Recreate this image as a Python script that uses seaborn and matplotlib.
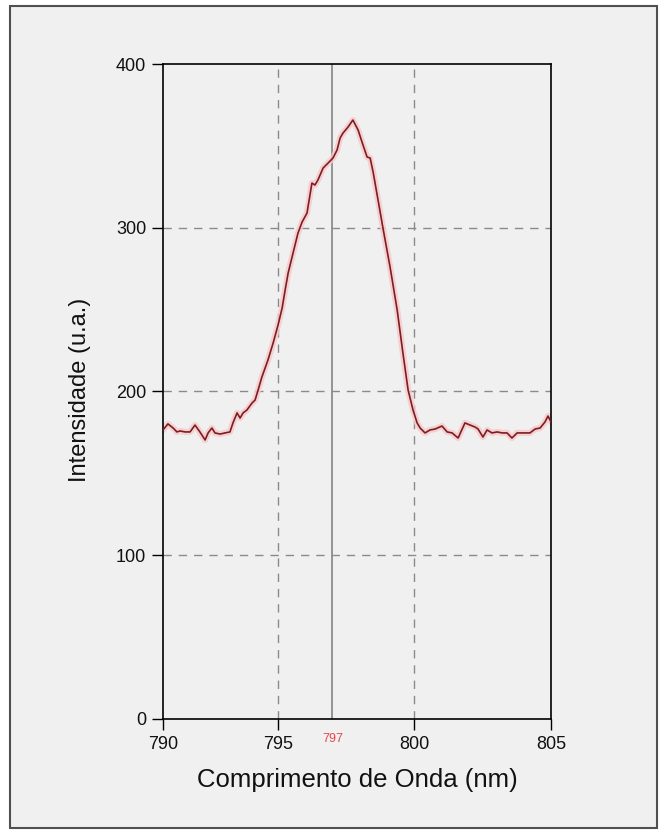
import matplotlib
matplotlib.use("Agg")
import matplotlib.pyplot as plt
from matplotlib.patches import Rectangle
import seaborn as sns
import pandas as pd

# Emission spectrum around 797 nm
wavelength_nm = [
    790.80, 790.98, 791.17, 791.31, 791.42, 791.61, 791.79, 791.97, 792.15, 792.34,
    792.45, 792.59, 792.70, 792.89, 793.07, 793.25, 793.36, 793.51, 793.62, 793.73,
    793.87, 794.06, 794.17, 794.28, 794.42, 794.64, 794.83, 795.01, 795.16, 795.27,
    795.38, 795.56, 795.74, 795.89, 796.07, 796.25, 796.36, 796.47, 796.66, 796.84,
    797.02, 797.17, 797.28, 797.39, 797.57, 797.75, 797.94, 798.12, 798.27, 798.38,
    798.49, 798.67, 798.85, 799.11, 799.37, 799.58, 799.77, 799.95, 800.10, 800.21,
    800.39, 800.57, 800.76, 801.01, 801.20, 801.38, 801.60, 801.85, 802.04, 802.22,
    802.33, 802.51, 802.66, 802.84, 803.03, 803.21, 803.39, 803.57, 803.76, 803.98,
    804.23, 804.42, 804.60, 804.78, 804.89, 805.00,
]
intensity = [
    176.5, 180.2, 177.7, 175.3, 175.9, 175.3, 175.3, 179.5, 175.3, 170.4,
    174.7, 177.7, 174.7, 174.0, 174.7, 175.3, 180.8, 186.9, 183.8, 186.9,
    188.7, 193.0, 194.8, 200.9, 208.9, 219.2, 229.6, 240.6, 251.0, 262.0,
    272.4, 284.6, 296.8, 303.5, 309.0, 327.3, 326.1, 329.2, 336.5, 339.5,
    342.6, 347.5, 354.8, 357.9, 361.5, 365.8, 359.7, 350.5, 343.2, 342.6,
    334.0, 316.9, 299.8, 276.0, 249.8, 223.5, 200.9, 188.7, 180.8, 177.7,
    174.7, 176.5, 177.1, 178.9, 175.3, 174.7, 171.6, 180.8, 179.5, 178.3,
    177.1, 172.2, 176.5, 174.7, 175.3, 174.7, 174.7, 171.6, 174.7, 174.7,
    174.7, 177.1, 177.7, 181.4, 185.0, 181.4,
]

x_range = (790.8, 805.0)
x_ticks = [790.8, 795, 800, 805]
x_tick_labels = ["790", "795", "800", "805"]
y_ticks = [0, 100, 200, 300, 400]
x_grid = [795, 800]
y_grid = [100, 200, 300]
marker_nm = 797

sns.set_style("white")
plt.rcParams["font.family"] = ["Liberation Sans", "DejaVu Sans"]

df = pd.DataFrame({"wavelength": wavelength_nm, "intensity": intensity})

fig = plt.figure(figsize=(6.67, 8.36), dpi=100, facecolor="white")

# panel frame behind the axes
fig.patches.append(Rectangle((0.015, 0.0096), 0.970, 0.983, transform=fig.transFigure,
                             facecolor="#f0f0f0", edgecolor="#505050", linewidth=1.5,
                             zorder=-10))

ax = fig.add_axes([0.2444, 0.14, 0.5817, 0.7834])
ax.set_zorder(5)
ax.set_facecolor("none")

for gx in x_grid:
    ax.axvline(gx, color="#8a8a8a", lw=1.0, ls=(0, (6, 5)), zorder=1)
for gy in y_grid:
    ax.axhline(gy, color="#8a8a8a", lw=1.0, ls=(0, (6, 5)), zorder=1)
ax.axvline(marker_nm, color="#8c8c8c", lw=1.3, zorder=1)

# soft halo under the trace
ax.plot(df["wavelength"], df["intensity"], color="#f6c9c9", lw=4.5, alpha=0.8,
        solid_capstyle="round", zorder=2)
sns.lineplot(data=df, x="wavelength", y="intensity", ax=ax, color="#7e1c22",
             lw=1.2, zorder=3, sort=False)

ax.set_xlim(*x_range)
ax.set_ylim(0, 400)
ax.set_xticks(x_ticks)
ax.set_xticklabels(x_tick_labels)
ax.set_yticks(y_ticks)
ax.tick_params(axis="both", direction="out", length=8, width=1.0, color="black",
               labelsize=13, labelcolor="#111111", bottom=True, left=True)
ax.tick_params(axis="x", pad=4)
ax.tick_params(axis="y", pad=4)

for s in ax.spines.values():
    s.set_color("black")
    s.set_linewidth(1.2)

ax.text(marker_nm, -0.022, str(marker_nm), transform=ax.get_xaxis_transform(),
        ha="center", va="top", fontsize=9, color="#e0474c")

ax.set_xlabel("Comprimento de Onda (nm)", fontsize=18.5, color="#111111")
ax.set_ylabel("Intensidade (u.a.)", fontsize=17, color="#111111")
ax.xaxis.label.set_va("center")
ax.yaxis.label.set_va("center")
ax.xaxis.set_label_coords(0.5, -0.093)
ax.yaxis.set_label_coords(-0.214, 0.502)

fig.savefig("out.png", dpi=100, facecolor=fig.get_facecolor())
